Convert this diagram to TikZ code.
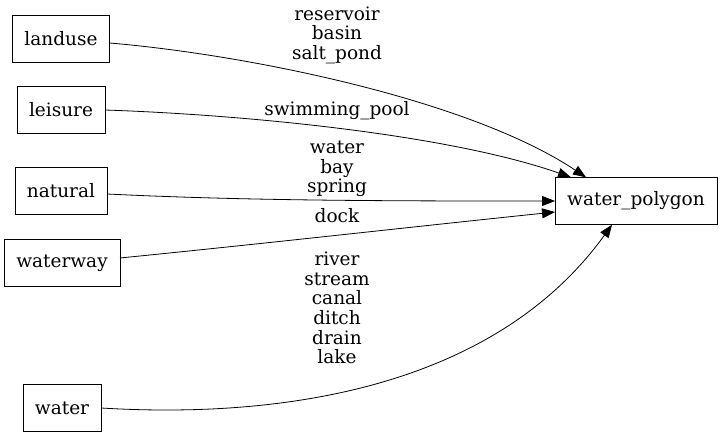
\documentclass[tikz,border=0pt]{standalone}
\usepackage{fontspec}
\setmainfont{DejaVu Serif}
\usetikzlibrary{arrows.meta}
\tikzset{tag/.style={draw,rectangle,minimum height=47pt,inner xsep=12pt,font=\fontsize{18.5}{19.6}\selectfont}}
\tikzset{lbl/.style={align=center,font=\fontsize{18.5}{19.6}\selectfont}}
\tikzset{flow/.style={-{Triangle[length=13pt,width=10pt]},line width=0.8pt}}

\begin{document}
\begin{tikzpicture}[x=1pt,y=-1pt]
\useasboundingbox (0,0) rectangle (723,437);
\node[tag](landuse) at (61,39){landuse};
\node[tag](leisure) at (61,110){leisure};
\node[tag](natural) at (61,191){natural};
\node[tag](waterway) at (62,263){waterway};
\node[tag](water) at (62,408){water};
\node[tag](polygon) at (636,201){water\_polygon};
\node[lbl](tlanduse) at (337,35){reservoir\\basin\\salt\_pond};
\node[lbl](tleisure) at (337,111){swimming\_pool};
\node[lbl](tnatural) at (337,169){water\\bay\\spring};
\node[lbl](twaterway) at (337,216){dock};
\node[lbl](twater) at (337,308){river\\stream\\canal\\ditch\\drain\\lake};
\draw[flow]([yshift=-4pt]landuse.east) .. controls (250,55) and (470,100) .. ([xshift=31pt]polygon.north west);
\draw[flow](leisure.east) .. controls (250,115) and (450,135) .. ([xshift=16pt]polygon.north west);
\draw[flow]([yshift=-3pt]natural.east) .. controls (250,201) and (400,201) .. (polygon.west);
\draw[flow]([yshift=5pt]waterway.east) .. controls (270,243) and (420,226) .. ([yshift=-11pt]polygon.west);
\draw[flow](water.east) .. controls (300,420) and (500,380) .. ([xshift=57pt]polygon.south west);
\end{tikzpicture}
\end{document}
